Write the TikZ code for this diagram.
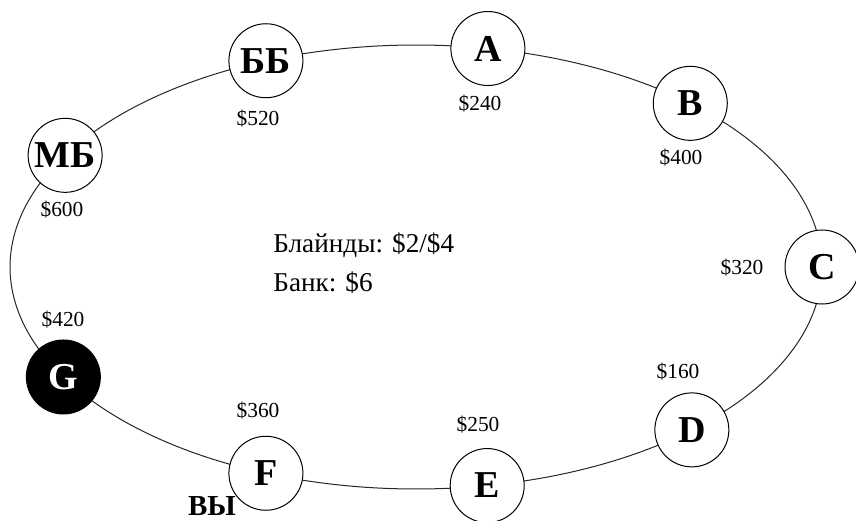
\documentclass[tikz,border=0pt]{standalone}
\usepackage{fontspec}
\setmainfont{Liberation Serif}
\usetikzlibrary{backgrounds}
\begin{document}
\begin{tikzpicture}[x=0.5pt,y=0.5pt,
  seat/.style={circle,draw=black,line width=0.5pt,fill=white,minimum size=37pt,inner sep=0pt,
    font=\fontsize{19}{21}\selectfont\bfseries},
  dealer/.style={seat,fill=black,text=white},
  money/.style={font=\fontsize{10.7}{12}\selectfont,inner sep=0pt},
  info/.style={font=\fontsize{13.6}{15}\selectfont,inner sep=0pt,anchor=base west},
  link/.style={line width=0.5pt,draw=black!85},
  rim/.style={x radius=203pt,y radius=111pt}]
\useasboundingbox (0,0) rectangle (856,520);
\def\ex#1{{416+406*cos(#1)}}
\def\ey#1{{253+222*sin(#1)}}
\node[seat] (C) at (\ex{0},\ey{0}) {C};
\node[seat] (B) at (\ex{47.5},\ey{47.5}) {B};
\node[seat] (A) at (\ex{79.8},\ey{79.8}) {A};
\node[seat] (BB) at (\ex{111.7},\ey{111.7}) {ББ};
\node[seat] (MB) at (\ex{149.8},\ey{149.8}) {МБ};
\node[dealer] (G) at (\ex{209.7},\ey{209.7}) {G};
\node[seat] (F) at (\ex{248.3},\ey{248.3}) {F};
\node[seat] (E) at (\ex{280.1},\ey{280.1}) {E};
\node[seat] (D) at (\ex{312.8},\ey{312.8}) {D};
\begin{scope}[on background layer]
\draw[link] (C.center) arc[rim,start angle=0,end angle=47.5];
\draw[link] (B.center) arc[rim,start angle=47.5,end angle=79.8];
\draw[link] (A.center) arc[rim,start angle=79.8,end angle=111.7];
\draw[link] (BB.center) arc[rim,start angle=111.7,end angle=149.8];
\draw[link] (MB.center) arc[rim,start angle=149.8,end angle=209.7];
\draw[link] (G.center) arc[rim,start angle=209.7,end angle=248.3];
\draw[link] (F.center) arc[rim,start angle=248.3,end angle=280.1];
\draw[link] (E.center) arc[rim,start angle=280.1,end angle=312.8];
\draw[link] (D.center) arc[rim,start angle=312.8,end angle=360];
\end{scope}
\node[money] (mBB) at (258,401) {\$520};
\node[money] (mMB) at (62,310) {\$600};
\node[money] (mA) at (480,416) {\$240};
\node[money] (mB) at (681,362) {\$400};
\node[money] (mC) at (742,252) {\$320};
\node[money] (mG) at (63,200) {\$420};
\node[money] (mF) at (258,109) {\$360};
\node[money] (mE) at (478,95) {\$250};
\node[money] (mD) at (678,148) {\$160};
\node[info] (blinds) at (273,268) {Блайнды: \$2/\$4};
\node[info] (bank) at (273,228) {Банк: \$6};
\node[font=\fontsize{14.5}{16}\selectfont\bfseries,inner sep=0pt] (you) at (212,14) {ВЫ};
\end{tikzpicture}
\end{document}
